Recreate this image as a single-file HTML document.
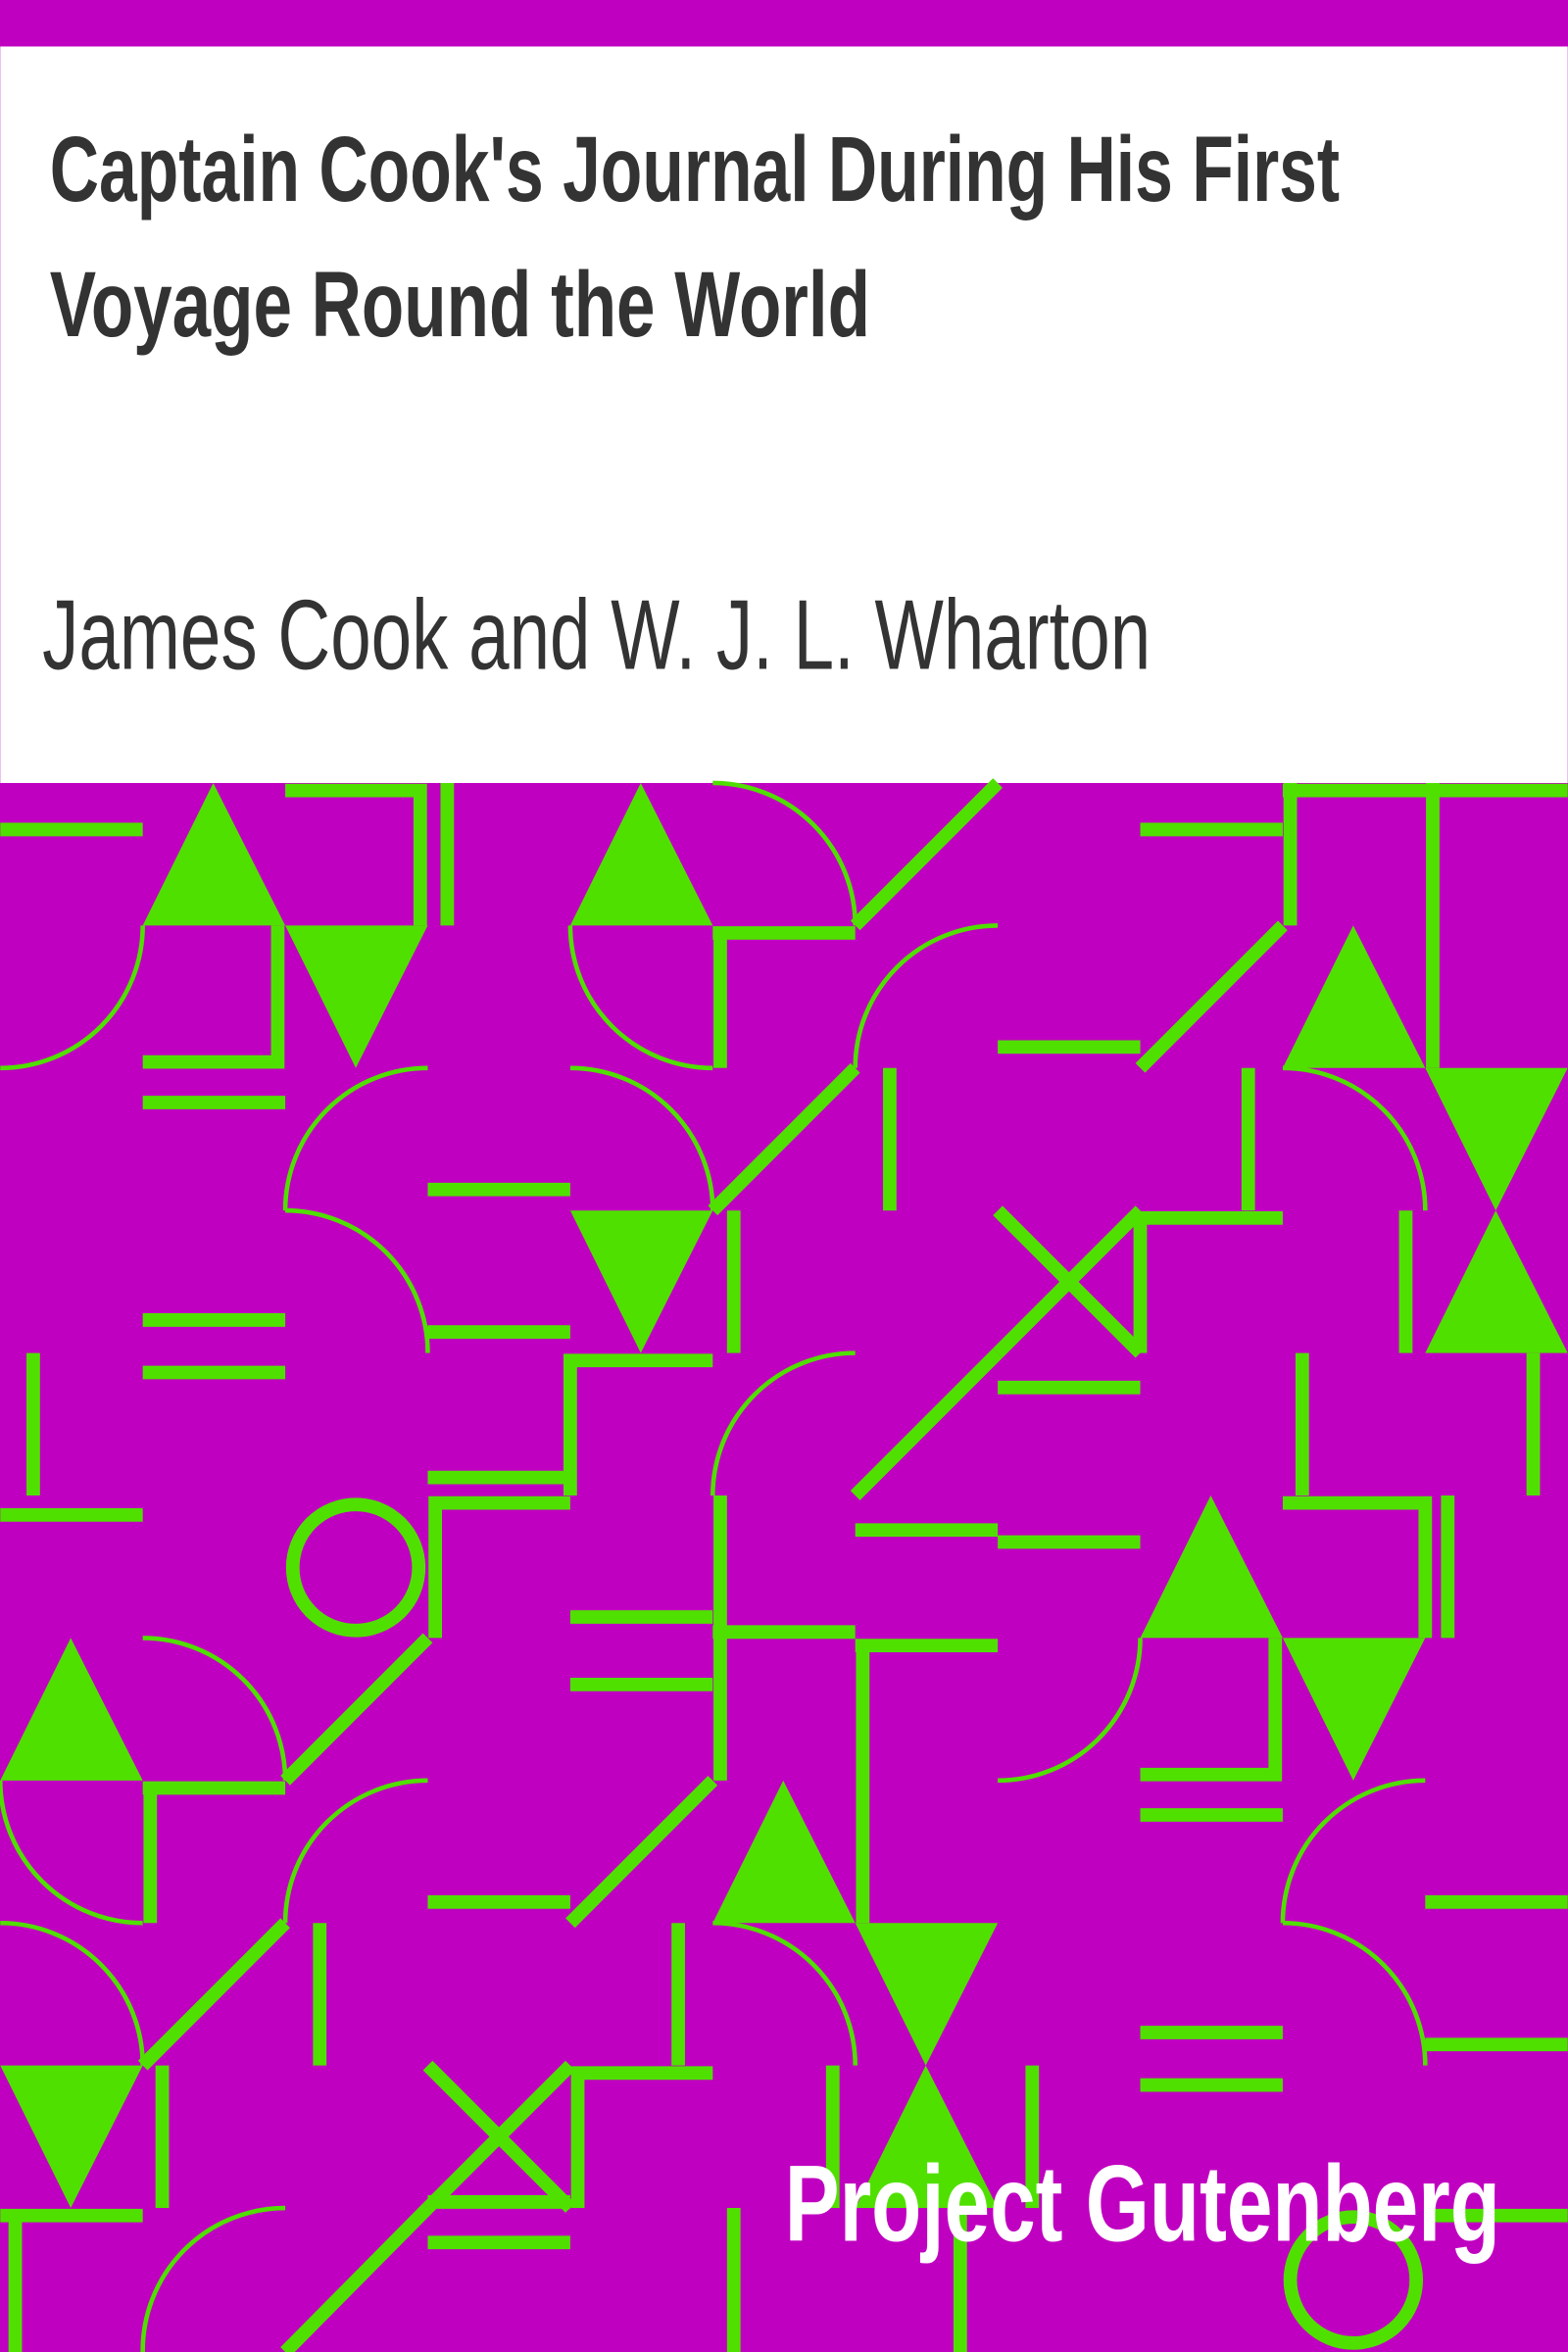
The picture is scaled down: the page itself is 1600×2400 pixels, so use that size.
<!DOCTYPE html>
<html><head><meta charset="utf-8"><style>
html,body{margin:0;padding:0;background:#c000c0;}
svg{display:block;}
</style></head><body>
<svg width="1600" height="2400" viewBox="0 0 1045 1568" xmlns="http://www.w3.org/2000/svg">
<rect x="0" y="0" width="1045" height="1568" fill="#c000c0"/>
<rect x="0" y="31" width="1045" height="491" fill="#ffffff"/>
<text x="33" y="134" font-family="'Liberation Sans Narrow','Liberation Sans',sans-serif" font-weight="bold" font-size="62" fill="#333" textLength="860" lengthAdjust="spacingAndGlyphs">Captain Cook's Journal During His First</text>
<text x="33" y="224" font-family="'Liberation Sans Narrow','Liberation Sans',sans-serif" font-weight="bold" font-size="62" fill="#333" textLength="547" lengthAdjust="spacingAndGlyphs">Voyage Round the World</text>
<text x="28" y="446" font-family="'Liberation Sans Narrow','Liberation Sans',sans-serif" font-size="66" fill="#333" textLength="739" lengthAdjust="spacingAndGlyphs">James Cook and W. J. L. Wharton</text>

<g fill="#50e000" stroke="none">
<polygon points="95,617 190,617 142,522"/>
<polygon points="190,617 285,617 237,712"/>
<polygon points="380,617 475,617 427,522"/>
<polygon points="855,712 950,712 902,617"/>
<polygon points="950,712 1045,712 997,807"/>
<polygon points="950,902 1045,902 997,807"/>
<polygon points="380,807 475,807 427,902"/>
<polygon points="760,1092 855,1092 807,997"/>
<polygon points="855,1092 950,1092 902,1187"/>
<polygon points="0,1187 95,1187 47,1092"/>
<polygon points="475,1282 570,1282 522,1187"/>
<polygon points="570,1282 665,1282 617,1377"/>
<polygon points="570,1472 665,1472 617,1377"/>
<polygon points="0,1377 95,1377 47,1472"/>
</g>
<g stroke="#50e000" stroke-width="9" fill="none">
<path d="M0,553H95 M190,527H280V617 M298,522V617 M185,617V708H95 M95,735H190"/>
<path d="M570,617L665,522 M475,622H570 M480,622V712 M665,698H760 M760,712L855,617 M860,522V617 M855,527H1045 M955,522V712 M760,553H855"/>
<path d="M285,793H380 M285,888H380 M475,807L570,712 M489,807V902 M593,712V807"/>
<path d="M832,712V807 M760,812H855 M760,812V902 M665,807L760,902 M665,902L760,807 M665,925H760 M937,807V902"/>
<path d="M95,880H190 M95,915H190 M22,902V997 M0,1010H95 M475,907H380V997 M285,985H380"/>
<path d="M570,997L665,902 M570,1020H665 M665,1028H760 M868,902V997 M855,1002H950V1092 M965,997V1092 M1022,902V997"/>
<path d="M380,1002H290V1092 M480,997V1187 M380,1078H475 M380,1123H475 M475,1088H570 M570,1097H665 M575,1097V1282"/>
<path d="M850,1092V1183H760 M760,1210H855 M190,1187L285,1092 M95,1192H190 M100,1192V1282 M285,1268H380 M380,1282L475,1187"/>
<path d="M950,1268H1045 M950,1363H1045 M95,1377L190,1282 M213,1282V1377 M452,1282V1377 M760,1355H855 M760,1390H855 M108,1377V1472"/>
<path d="M285,1377L380,1472 M285,1472L380,1377 M475,1382H385V1472 M285,1468H380 M285,1495H380 M555,1377V1472 M688,1377V1472"/>
<path d="M0,1477H95 M10,1477V1568 M190,1568L285,1472 M489,1472V1568 M640,1472V1568 M950,1477H1045"/>
<circle cx="237" cy="1045" r="42"/>
<circle cx="902" cy="1520" r="42"/>
</g>
<g stroke="#50e000" stroke-width="3" fill="none">
<path d="M95,617A95,95 0 0 1 0,712"/>
<path d="M475,522A95,95 0 0 1 570,617"/>
<path d="M380,617A95,95 0 0 0 475,712"/>
<path d="M570,712A95,95 0 0 1 665,617"/>
<path d="M190,807A95,95 0 0 1 285,712"/>
<path d="M190,807A95,95 0 0 1 285,902"/>
<path d="M380,712A95,95 0 0 1 475,807"/>
<path d="M855,712A95,95 0 0 1 950,807"/>
<path d="M475,997A95,95 0 0 1 570,902"/>
<path d="M760,1092A95,95 0 0 1 665,1187"/>
<path d="M95,1092A95,95 0 0 1 190,1187"/>
<path d="M0,1187A95,95 0 0 0 95,1282"/>
<path d="M190,1282A95,95 0 0 1 285,1187"/>
<path d="M855,1282A95,95 0 0 1 950,1187"/>
<path d="M855,1282A95,95 0 0 1 950,1377"/>
<path d="M0,1282A95,95 0 0 1 95,1377"/>
<path d="M475,1282A95,95 0 0 1 570,1377"/>
<path d="M95,1568A95,95 0 0 1 190,1472"/>
</g>
<text x="523" y="1494" font-family="'Liberation Sans Narrow','Liberation Sans',sans-serif" font-weight="bold" font-size="72" fill="#ffffff" textLength="477" lengthAdjust="spacingAndGlyphs">Project Gutenberg</text>
</svg>
</body></html>
